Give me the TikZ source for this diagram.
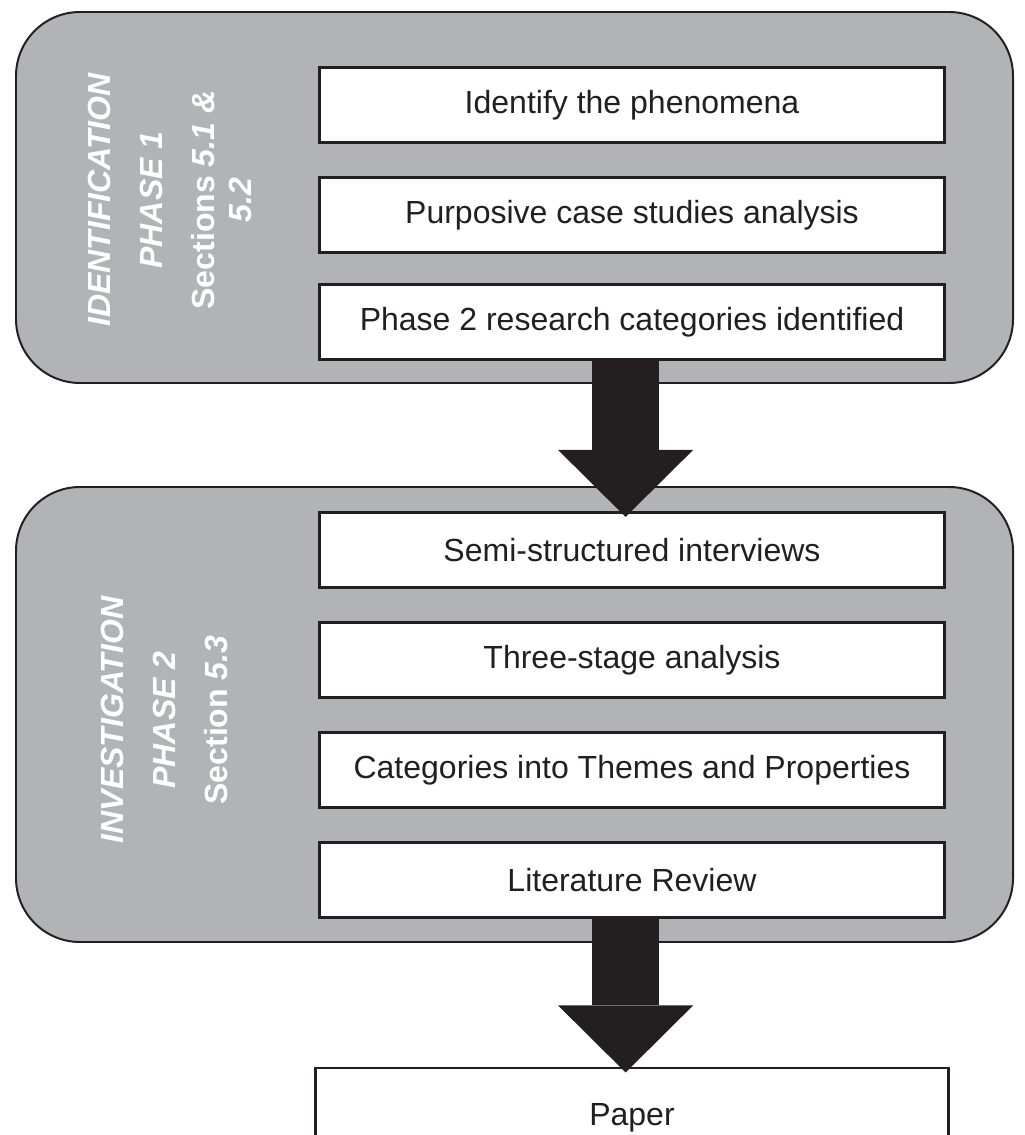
\documentclass[tikz,border=0pt]{standalone}
\usepackage{fontspec}
\setmainfont{Liberation Sans}
\usetikzlibrary{arrows.meta}

\definecolor{panelgrey}{RGB}{178,179,183}
\definecolor{inkblack}{RGB}{35,31,32}

\newcommand\boxfont{\fontsize{22.76}{27}\selectfont}
\newcommand\phasefont{\fontsize{22.76}{26.3}\selectfont\bfseries\itshape}

\tikzset{
    panel/.style={draw=inkblack, fill=panelgrey, line width=1.4pt, rounded corners=1.6cm},
    stepbox/.style={draw=inkblack, fill=white, line width=1.6pt, text=inkblack,
        minimum width=15.625cm, minimum height=1.875cm, inner sep=0pt, font=\boxfont},
    phaselabel/.style={rotate=90, text=white, align=center, inner sep=0pt, font=\phasefont},
    bigarrow/.style={draw=inkblack, line width=1.675cm, shorten >=-0.14cm,
        -{Triangle[width=3.375cm, length=1.675cm, line width=0pt]}}
}

\begin{document}
\begin{tikzpicture}[x=0.025cm, y=-0.025cm]
    \useasboundingbox (0,0) rectangle (1024,1135);
    \clip (0,0) rectangle (1024,1135);
    % the two phases
    \draw[panel] (16,12) rectangle (1013,383);
    \draw[panel] (16,487) rectangle (1013,942);
    \node[phaselabel] (idlabel) at (170,200)
        {IDENTIFICATION\\[0.375cm] PHASE 1\\[0.375cm] {\upshape Sections} 5.1 \&\\ 5.2};
    \node[phaselabel] (invlabel) at (164,720)
        {INVESTIGATION\\[0.375cm] PHASE 2\\[0.375cm] {\upshape Section} 5.3};
    % phase 1 steps
    \node[stepbox] (id1) at (632,105) {Identify the phenomena};
    \node[stepbox] (id2) at (632,215) {Purposive case studies analysis};
    \node[stepbox] (id3) at (632,322) {Phase 2 research categories identified};
    % phase 2 steps
    \node[stepbox] (in1) at (632,550) {Semi-structured interviews};
    \node[stepbox] (in2) at (632,660) {Three-stage analysis};
    \node[stepbox] (in3) at (632,770) {Categories into Themes and Properties};
    \node[stepbox] (in4) at (632,880) {Literature Review};
    % outcome
    \node[stepbox, minimum width=15.825cm, minimum height=2.5cm] (paper) at (632,1118) {Paper};
    % flow
    \draw[bigarrow] ([xshift=-0.16cm]id3.south) -- ([xshift=-0.16cm]in1.north);
    \draw[bigarrow] ([xshift=-0.16cm]in4.south) -- ([xshift=-0.16cm]paper.north);
\end{tikzpicture}
\end{document}
